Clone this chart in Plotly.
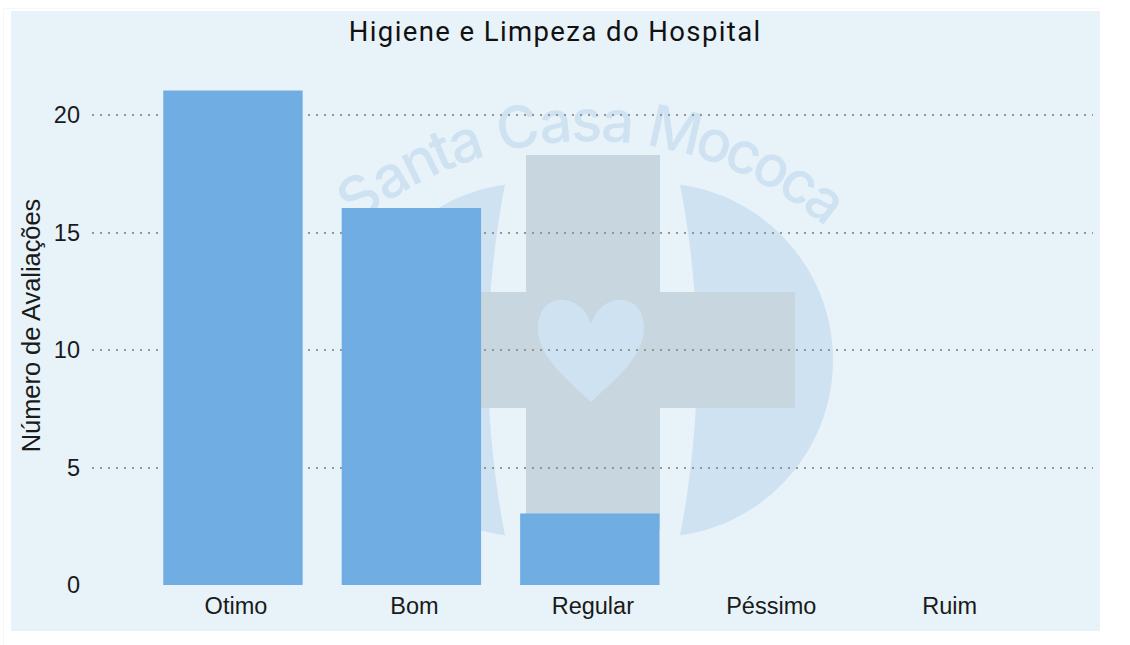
import math
import plotly.graph_objects as go

categories = ["Otimo", "Bom", "Regular", "Péssimo", "Ruim"]
values = [21, 16, 3, 0, 0]
y_ticks = [0, 5, 10, 15, 20]
title = "Higiene e Limpeza do Hospital"
y_title = "Número de Avaliações"
logo_text = "Santa Casa Mococa"

W, H = 1130, 645
L, R, T, B = 92, 1093, 66, 585
LOGO_BLUE = "#cfe2f1"
CROSS = "#c8d6df"


def px(x):
    return (x - L) / (R - L)


def py(y):
    return (B - y) / (B - T)


def path(points):
    return "M " + " L ".join(f"{px(x):.5f},{py(y):.5f}" for x, y in points) + " Z"


def rect(x0, y0, x1, y1, color):
    return dict(type="rect", xref="paper", yref="paper", x0=px(x0), x1=px(x1), y0=py(y0), y1=py(y1),
                fillcolor=color, line_width=0, layer="below")


def segment(side):
    """Logo half disc: outer circle plus a curved inner edge. side = 1 right, -1 left."""
    mid = 592.5
    ccx, ccy, r = mid + side * 63.5, 360, 177
    dx = 87.5
    half = math.sqrt(r * r - (dx - 63.5) ** 2)
    a0 = math.atan2(-half, side * (dx - 63.5))
    a1 = math.atan2(half, side * (dx - 63.5))
    if side == -1:
        a0 = a0 % (2 * math.pi)
        a1 = a1 % (2 * math.pi)
    pts = []
    n = 60
    for i in range(n + 1):
        t = a0 + (a1 - a0) * i / n
        pts.append((ccx + r * math.cos(t), ccy + r * math.sin(t)))
    top = pts[0]
    bot = pts[-1]
    for i in range(1, 30):
        u = i / 30
        y = bot[1] + (top[1] - bot[1]) * u
        bulge = 17 * 4 * u * (1 - u)
        x = bot[0] + side * bulge
        pts.append((x, y))
    return pts


shapes = [
    rect(3, 8, 1100, 9, "#f7f7f7"),
    rect(3, 8, 4, 645, "#f7f7f7"),
    rect(11, 11, 1100, 631, "#e7f3f9"),
]

for s in (-1, 1):
    shapes.append(dict(type="path", xref="paper", yref="paper", path=path(segment(s)), fillcolor=LOGO_BLUE,
                       line_width=0, layer="below"))

# logo: cross
shapes.append(rect(526, 155, 660, 530, CROSS))
shapes.append(rect(440, 292, 795, 408, CROSS))

# logo: heart
hs = (f"M {px(591):.5f},{py(402):.5f} "
      f"C {px(570):.5f},{py(382):.5f} {px(538):.5f},{py(358):.5f} {px(538):.5f},{py(328):.5f} "
      f"C {px(538):.5f},{py(291):.5f} {px(581):.5f},{py(291):.5f} {px(591):.5f},{py(324):.5f} "
      f"C {px(601):.5f},{py(291):.5f} {px(644):.5f},{py(291):.5f} {px(644):.5f},{py(328):.5f} "
      f"C {px(644):.5f},{py(358):.5f} {px(612):.5f},{py(382):.5f} {px(591):.5f},{py(402):.5f} Z")
shapes.append(dict(type="path", xref="paper", yref="paper", path=hs, fillcolor=LOGO_BLUE, line_width=0, layer="below"))

# logo lettering along an arc: real text as labels of empty shapes, so that it sits below the bars
a_cx, a_cy, a_r = 590, 508, 390
font_size = 58
start, end = -90 - 39.5, -90 + 40
widths = [0.667, 0.556, 0.556, 0.278, 0.556, 0.278, 0.722, 0.556, 0.5, 0.556, 0.278, 0.833, 0.556, 0.5, 0.556, 0.5, 0.556]
total = sum(widths)
acc = 0
for ch, w in zip(logo_text, widths):
    ang = start + (end - start) * (acc + w / 2) / total
    acc += w
    if ch == " ":
        continue
    lx = a_cx + a_r * math.cos(math.radians(ang))
    ly = a_cy + a_r * math.sin(math.radians(ang))
    s = rect(lx - 30, ly - 30, lx + 30, ly + 30, "rgba(0,0,0,0)")
    s["label"] = dict(text=ch, textangle=ang + 90, textposition="middle center",
                      font=dict(family="Inter", size=font_size, color=LOGO_BLUE, weight=500))
    shapes.append(s)

annotations = [dict(
    xref="paper", yref="paper", showarrow=False, text=title, x=px(555), y=py(31),
    xanchor="center", yanchor="middle",
    font=dict(family="Roboto", size=27.5, color="#111111", weight=400),
)]

line_widths = [2 if v > 0 else 0 for v in values]
fig = go.Figure(go.Bar(x=categories, y=values,
                       marker=dict(color="#6fade2", line=dict(width=line_widths, color="#6fade2")),
                       width=0.77))

fig.update_layout(
    width=W, height=H,
    margin=dict(l=L, r=W - R, t=T, b=H - B, pad=0, autoexpand=False),
    paper_bgcolor="#ffffff", plot_bgcolor="rgba(0,0,0,0)",
    showlegend=False, shapes=shapes, annotations=annotations,
    font=dict(family="Liberation Sans", color="#1a1a1a"),
)
fig.update_xaxes(
    type="category", categoryorder="array", categoryarray=categories,
    range=[-0.79, 4.82], showgrid=False, zeroline=False, showline=False, ticks="",
    tickfont=dict(size=23.5, color="#1a1a1a"), ticklabelshift=3, ticklabelstandoff=4,
)
fig.update_yaxes(
    range=[0, (B - T) / 23.5], tickvals=y_ticks, ticktext=[str(v) for v in y_ticks],
    showgrid=True, gridcolor="#969696", gridwidth=1.5, griddash="2px,6px",
    zeroline=False, showline=False, ticks="",
    tickfont=dict(size=23.5, color="#1a1a1a"), ticklabelstandoff=11,
    title=dict(text=y_title, font=dict(size=25.4, color="#1a1a1a"), standoff=5),
)

fig.write_html("out.html", config=dict(displayModeBar=False),
               post_script="document.body.style.margin='0';document.body.style.overflow='hidden';"
                           "document.querySelectorAll('.annotation-text').forEach(function(t){t.style.letterSpacing='1.4px';});")
